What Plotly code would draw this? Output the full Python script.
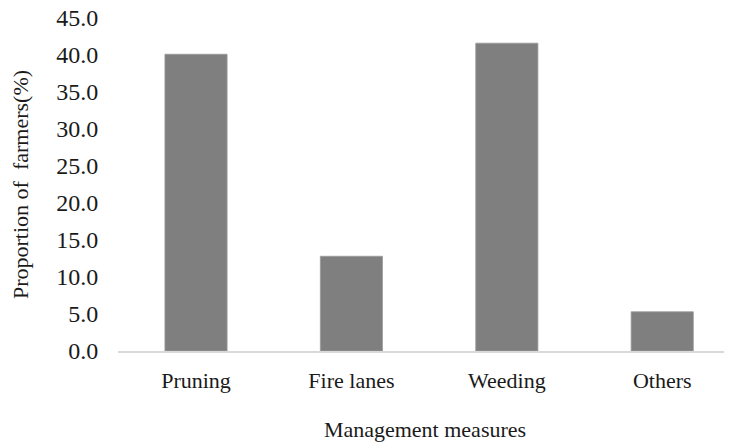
import plotly.graph_objects as go

categories = ["Pruning", "Fire lanes", "Weeding", "Others"]
proportions = [40.1, 12.8, 41.6, 5.3]
y_ticks = [0, 5, 10, 15, 20, 25, 30, 35, 40, 45]
y_tick_labels = [f"{v:.1f}" for v in y_ticks]

FONT = "Liberation Serif"

fig = go.Figure(
    go.Bar(
        x=list(range(len(categories))),
        y=proportions,
        width=0.4,
        marker=dict(color="#7f7f7f", line=dict(color="#9a9a9a", width=0.8)),
    )
)

fig.update_layout(
    width=732,
    height=448,
    margin=dict(l=110, r=8, t=10, b=105),
    paper_bgcolor="white",
    plot_bgcolor="white",
    showlegend=False,
    font=dict(family=FONT, size=22, color="#1a1a1a"),
)

fig.update_xaxes(
    automargin=False,
    range=[-0.502, 3.449],
    tickmode="array",
    tickvals=list(range(len(categories))),
    ticktext=categories,
    showline=True,
    linecolor="#d9d9d9",
    linewidth=2,
    showgrid=False,
    zeroline=False,
    ticks="outside",
    ticklen=9,
    tickcolor="rgba(0,0,0,0)",
    tickfont=dict(family=FONT, size=22, color="#1a1a1a"),
    title=dict(text="Management measures", standoff=29,
               font=dict(family=FONT, size=22, color="#1a1a1a")),
)

fig.update_yaxes(
    automargin=False,
    range=[0, 45],
    tickmode="array",
    tickvals=y_ticks,
    ticktext=y_tick_labels,
    ticklabeloverflow="allow",
    showline=False,
    showgrid=False,
    zeroline=False,
    ticks="outside",
    ticklen=14,
    tickcolor="rgba(0,0,0,0)",
    tickfont=dict(family=FONT, size=24, color="#1a1a1a"),
    title=dict(text="Proportion of\u00a0 farmers(%)", standoff=30,
               font=dict(family=FONT, size=22, color="#1a1a1a")),
)

fig.write_html("out.html")
